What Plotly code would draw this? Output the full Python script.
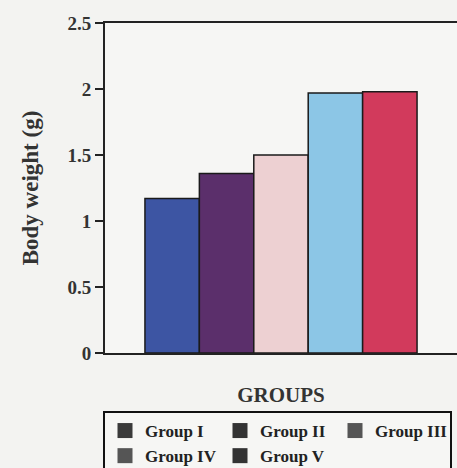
import plotly.graph_objects as go

groups = ["Group I", "Group II", "Group III", "Group IV", "Group V"]
weights = [1.17, 1.36, 1.50, 1.97, 1.98]
bar_colors = ["#3d55a3", "#5b2f6b", "#edd0d2", "#8cc6e6", "#d23a5c"]
legend_colors = ["#3a3a3a", "#333333", "#555555", "#555555", "#333333"]
y_ticks = [0, 0.5, 1, 1.5, 2, 2.5]
y_tick_text = ["0", "0.5", "1", "1.5", "2", "2.5"]

fig = go.Figure()
for g, w, c in zip(groups, weights, bar_colors):
    fig.add_trace(go.Bar(x=["GROUPS"], y=[w], name=g, marker=dict(color=c, line=dict(color="#1a1a1a", width=1.5)),
                         showlegend=False))
for g, lc in zip(groups, legend_colors):
    fig.add_trace(go.Scatter(x=[None], y=[None], mode="markers", name=f"<b>{g}</b>",
                             marker=dict(symbol="square", size=15, color=lc)))

font = "Liberation Serif, Times New Roman, serif"
fig.update_layout(
    width=457, height=468,
    margin=dict(l=105, r=0, t=23, b=115, autoexpand=False),
    paper_bgcolor="#f3f3f1", plot_bgcolor="#f6f6f4",
    barmode="group", bargap=0.227, bargroupgap=0,
    font=dict(family=font, color="#222222"),
    xaxis=dict(showticklabels=False, ticks="", showline=True, linecolor="#222222", linewidth=2,
               mirror=True, showgrid=False,
               title=dict(text="<b>GROUPS</b>", font=dict(size=21, family=font, color="#333333"), standoff=33)),
    yaxis=dict(range=[0, 2.5], tickvals=y_ticks, ticktext=[f"<b>{t}</b>" for t in y_tick_text],
               ticks="outside", ticklen=8, tickwidth=2, tickcolor="#222222",
               showline=True, linecolor="#222222", linewidth=2, showgrid=False, zeroline=False,
               tickfont=dict(size=19, family=font, color="#333333"),
               title=dict(text="<b>Body weight (g)</b>", font=dict(size=23, family=font, color="#333333"), standoff=22)),
    legend=dict(orientation="h", x=103 / 457, xref="container", xanchor="left",
                y=1 - 411 / 468, yref="container", yanchor="top",
                entrywidth=70, entrywidthmode="pixels", bgcolor="#f6f6f4",
                bordercolor="#111111", borderwidth=2,
                font=dict(size=17, family=font, color="#222222"), itemsizing="trace",
                tracegroupgap=0),
)
fig.write_html("out.html", config={"displayModeBar": False},
               post_script="document.body.style.margin='0';document.body.style.overflow='hidden';")
